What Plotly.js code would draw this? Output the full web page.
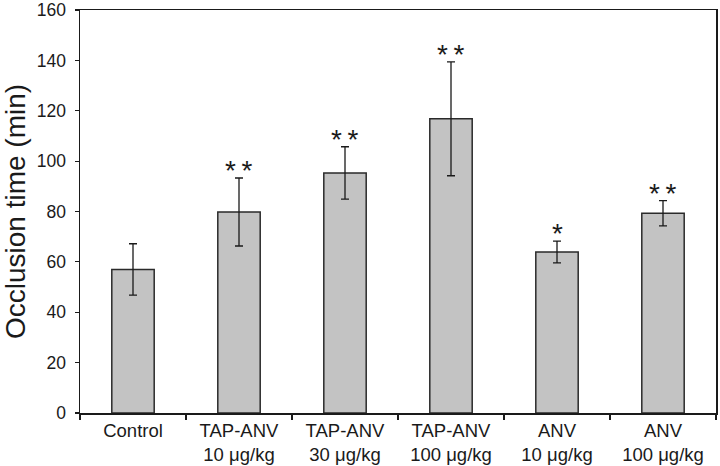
<!DOCTYPE html>
<html>
<head>
<meta charset="utf-8">
<script src="https://cdn.plot.ly/plotly-3.0.1.min.js"></script>
<style>html,body{margin:0;padding:0;background:#fff;}#chart{width:720px;height:466px;}</style>
</head>
<body>
<div id="chart"></div>
<script>
var categories = ["Control", "TAP-ANV<br>10 μg/kg", "TAP-ANV<br>30 μg/kg", "TAP-ANV<br>100 μg/kg", "ANV<br>10 μg/kg", "ANV<br>100 μg/kg"];
var occlusionTime = [57.0, 79.8, 95.3, 116.8, 63.9, 79.3];
var errorValues = [10.2, 13.5, 10.4, 22.6, 4.3, 5.0];
var significance = ["", "**", "**", "**", "*", "**"];
var yTickValues = [0, 20, 40, 60, 80, 100, 120, 140, 160];

var trace = {
  type: "bar",
  x: categories,
  y: occlusionTime,
  width: 0.4,
  marker: {color: "#c3c3c3", line: {color: "#2a2a2a", width: 1.5}},
  error_y: {type: "data", array: errorValues, visible: true, color: "#1a1a1a", thickness: 1.3, width: 4}
};

var annotations = [];
for (var i = 0; i < categories.length; i++) {
  if (!significance[i]) continue;
  annotations.push({
    x: categories[i], y: occlusionTime[i] + errorValues[i],
    xref: "x", yref: "y",
    text: significance[i].split("").join("\u2009"), showarrow: false,
    yanchor: "bottom", yshift: -10,
    font: {family: "Liberation Sans, Arial, sans-serif", size: 28, color: "#1a1a1a"}
  });
}

var layout = {
  width: 720, height: 466,
  margin: {l: 80, r: 4, t: 10, b: 53},
  paper_bgcolor: "#fff", plot_bgcolor: "#fff",
  showlegend: false,
  font: {family: "Liberation Sans, Arial, sans-serif", color: "#1a1a1a"},
  xaxis: {
    type: "category", range: [-0.5, 5.5],
    showline: true, linecolor: "#1a1a1a", linewidth: 1.5, mirror: true,
    ticks: "outside", tickson: "boundaries", ticklen: 5, tickwidth: 1.2, tickcolor: "#1a1a1a",
    tickfont: {size: 18.5, color: "#1a1a1a"},
    showgrid: false, zeroline: false
  },
  yaxis: {
    range: [0, 160], tickvals: yTickValues,
    showline: true, linecolor: "#1a1a1a", linewidth: 1.5, mirror: true,
    ticks: "outside", ticklen: 4, tickwidth: 1.2, tickcolor: "#1a1a1a",
    tickfont: {size: 17.5, color: "#1a1a1a"},
    ticklabelstandoff: 5,
    showgrid: false, zeroline: false,
    title: {text: "Occlusion time (min)", font: {size: 28, color: "#1a1a1a"}, standoff: 11}
  },
  annotations: annotations
};

Plotly.newPlot("chart", [trace], layout, {displayModeBar: false, staticPlot: true});
</script>
</body>
</html>
